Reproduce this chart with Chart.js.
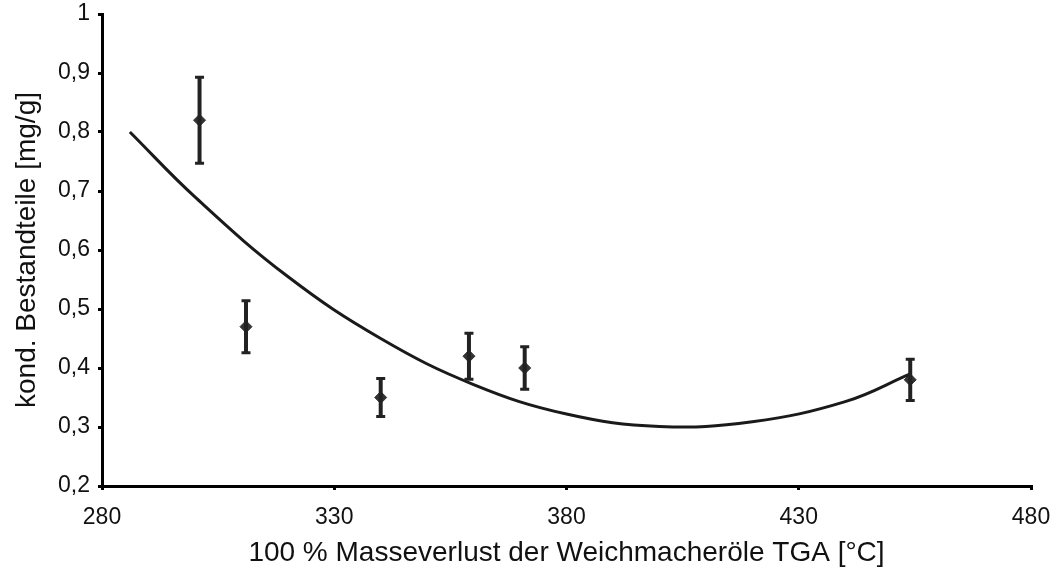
<!DOCTYPE html>
<html>
<head>
<meta charset="utf-8">
<script src="https://cdn.jsdelivr.net/npm/chart.js@4/dist/chart.umd.min.js"></script>
<style>
  html, body { margin: 0; padding: 0; background: #fff; }
  #wrap { width: 1062px; height: 573px; }
</style>
</head>
<body>
<div id="wrap"><canvas id="tgaChart" width="1062" height="573"></canvas></div>
<script>
// measured points: temperature at 100 % mass loss vs. condensed components
const tempC = [301, 311, 340, 359, 371, 454];
const massMg = [0.82, 0.47, 0.35, 0.42, 0.40, 0.38];
const errMg = [0.073, 0.044, 0.032, 0.039, 0.036, 0.035];

// polynomial trend line, sampled along its course
const trendX = [286, 300, 320, 340, 360, 380, 400, 420, 440, 454];
const trendY = [0.80, 0.69, 0.555, 0.45, 0.372, 0.322, 0.301, 0.309, 0.343, 0.39];

const xTicks = [280, 330, 380, 430, 480];
const yTicks = [0.2, 0.3, 0.4, 0.5, 0.6, 0.7, 0.8, 0.9, 1];

const ink = '#111';
const fontFamily = '"Liberation Sans", Arial, sans-serif';

// vertical error bars with caps
const errorBars = {
  id: 'errorBars',
  afterDatasetsDraw(chart) {
    const { ctx, scales: { x, y } } = chart;
    ctx.save();
    ctx.strokeStyle = '#222';
    tempC.forEach((t, i) => {
      const px = x.getPixelForValue(t);
      const top = y.getPixelForValue(massMg[i] + errMg[i]);
      const bot = y.getPixelForValue(massMg[i] - errMg[i]);
      ctx.lineWidth = 4;
      ctx.beginPath();
      ctx.moveTo(px, top);
      ctx.lineTo(px, bot);
      ctx.stroke();
      ctx.lineWidth = 3;
      ctx.beginPath();
      ctx.moveTo(px - 4.5, top);
      ctx.lineTo(px + 4.5, top);
      ctx.moveTo(px - 4.5, bot);
      ctx.lineTo(px + 4.5, bot);
      ctx.stroke();
    });
    ctx.restore();
  }
};

const ctx = document.getElementById('tgaChart').getContext('2d');
new Chart(ctx, {
  type: 'scatter',
  data: {
    datasets: [
      {
        label: 'Trend',
        data: trendX.map((v, i) => ({ x: v, y: trendY[i] })),
        showLine: true,
        tension: 0.4,
        borderColor: '#1a1a1a',
        borderWidth: 3,
        pointRadius: 0,
        fill: false
      },
      {
        label: 'Messwerte',
        data: tempC.map((v, i) => ({ x: v, y: massMg[i] })),
        pointStyle: 'rectRot',
        pointRadius: 6,
        backgroundColor: '#333',
        borderColor: '#333',
        borderWidth: 1
      }
    ]
  },
  options: {
    responsive: false,
    animation: false,
    layout: { padding: { top: 14, right: 31, left: 0, bottom: 0 } },
    plugins: {
      legend: { display: false },
      tooltip: { enabled: false }
    },
    scales: {
      x: {
        type: 'linear',
        min: 280,
        max: 480,
        afterBuildTicks: (scale) => { scale.ticks = xTicks.map(v => ({ value: v })); },
        afterFit: (scale) => {
          scale.height = 87;
          scale.paddingLeft = 0;
          scale.paddingRight = 0;
        },
        border: { color: '#000', width: 3 },
        grid: { drawOnChartArea: false, tickLength: 4, color: '#000', lineWidth: 3 },
        ticks: {
          color: ink,
          padding: 14,
          font: { family: fontFamily, size: 23 },
          maxRotation: 0
        },
        title: {
          display: true,
          text: '100 % Masseverlust der Weichmacheröle TGA [°C]',
          color: ink,
          font: { family: fontFamily, size: 28 },
          padding: { top: 0, bottom: 3 }
        }
      },
      y: {
        min: 0.2,
        max: 1,
        afterBuildTicks: (scale) => { scale.ticks = yTicks.map(v => ({ value: v })); },
        afterFit: (scale) => {
          scale.width = 102;
          scale.paddingTop = 0;
          scale.paddingBottom = 0;
        },
        border: { color: '#000', width: 3 },
        grid: { drawOnChartArea: false, tickLength: 4, color: '#000', lineWidth: 3 },
        ticks: {
          color: ink,
          padding: 8,
          font: { family: fontFamily, size: 23 },
          callback: (v) => (v === 1 ? '1' : Number(v).toFixed(1).replace('.', ','))
        },
        title: {
          display: true,
          text: 'kond. Bestandteile [mg/g]',
          color: ink,
          font: { family: fontFamily, size: 28 },
          padding: { top: 10, bottom: 0 }
        }
      }
    }
  },
  plugins: [errorBars]
});
</script>
</body>
</html>
